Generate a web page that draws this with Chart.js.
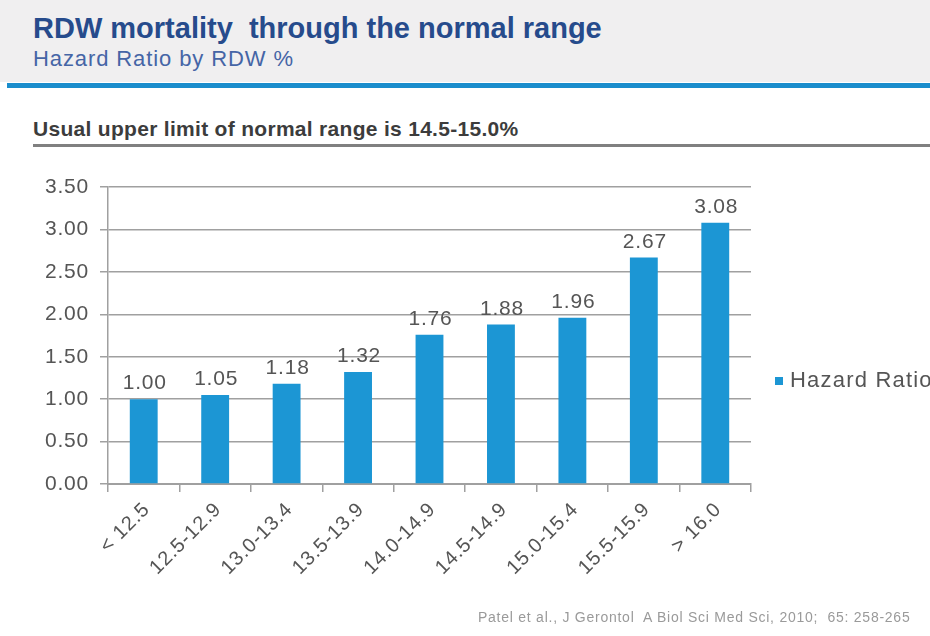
<!DOCTYPE html>
<html>
<head>
<meta charset="utf-8">
<script src="https://cdn.jsdelivr.net/npm/chart.js@4/dist/chart.umd.min.js"></script>
<style>
  html, body { margin: 0; padding: 0; background: #fff; }
  body { width: 930px; height: 636px; position: relative; overflow: hidden;
         font-family: "Liberation Sans", Arial, sans-serif; }
  .band { position: absolute; left: 0; top: 0; width: 930px; height: 82px; background: #f0eff0; }
  .rule-blue { position: absolute; left: 7px; right: 0; top: 83px; height: 5px; background: #1a8dcc; }
  .title { position: absolute; left: 33px; top: 12px; font-weight: bold; font-size: 29px;
           color: #264b8c; white-space: pre; }
  .subtitle { position: absolute; left: 33px; top: 46px; font-size: 22px; color: #4565a6;
              letter-spacing: 0.9px; }
  .note { position: absolute; left: 33px; top: 117px; font-weight: bold; font-size: 21px;
          color: #3c3c3c; letter-spacing: 0.3px; }
  .rule-grey { position: absolute; left: 33px; right: 0; top: 144px; height: 3px; background: #808080; }
  .source { position: absolute; left: 478px; top: 609px; font-size: 14px; color: #9a9a9a;
            letter-spacing: 0.75px; white-space: pre; }
  #wrap { position: absolute; left: 0; top: 150px; width: 930px; height: 460px; }
</style>
</head>
<body>
<div class="band"></div>
<div class="rule-blue"></div>
<div class="title">RDW mortality  through the normal range</div>
<div class="subtitle">Hazard Ratio by RDW %</div>
<div class="note">Usual upper limit of normal range is 14.5-15.0%</div>
<div class="rule-grey"></div>
<div id="wrap"><canvas id="chart" width="930" height="460"></canvas></div>
<div class="source">Patel et al., J Gerontol  A Biol Sci Med Sci, 2010;  65: 258-265</div>

<script>
// RDW ranges (%) and the hazard ratio for each range
const rdwRanges = ['< 12.5', '12.5-12.9', '13.0-13.4', '13.5-13.9', '14.0-14.9',
                   '14.5-14.9', '15.0-15.4', '15.5-15.9', '> 16.0'];
const hazardRatios = [1.00, 1.05, 1.18, 1.32, 1.76, 1.88, 1.96, 2.67, 3.08];
const seriesName = 'Hazard Ratio';
const yTicks = [0, 0.5, 1, 1.5, 2, 2.5, 3, 3.5];

const axisGrey = '#a0a0a0';
const textGrey = '#555555';
const barBlue = '#1c96d4';
const fontFamily = '"Liberation Sans", Arial, sans-serif';

// slightly open tracking for all chart text
const tracking = {
  id: 'tracking',
  beforeDraw(chart) { chart.ctx.letterSpacing = '0.8px'; }
};

// value printed above each bar
const barValues = {
  id: 'barValues',
  afterDatasetsDraw(chart) {
    const ctx = chart.ctx;
    ctx.save();
    ctx.font = '21px ' + fontFamily;
    ctx.fillStyle = textGrey;
    ctx.textAlign = 'center';
    ctx.textBaseline = 'bottom';
    chart.data.datasets.forEach((ds, di) => {
      chart.getDatasetMeta(di).data.forEach((bar, i) => {
        ctx.fillText(ds.data[i].toFixed(2), bar.x + 1, bar.y - 5);
      });
    });
    ctx.restore();
  }
};

// single-entry legend to the right of the plot
const sideLegend = {
  id: 'sideLegend',
  afterDraw(chart) {
    const ctx = chart.ctx;
    const area = chart.chartArea;
    const ds = chart.data.datasets[0];
    const x = area.right + 24;
    const y = area.bottom - 103;
    ctx.save();
    ctx.letterSpacing = '1.2px';
    ctx.fillStyle = ds.backgroundColor;
    ctx.fillRect(x, y - 4, 8, 8);
    ctx.font = '22px ' + fontFamily;
    ctx.fillStyle = textGrey;
    ctx.textBaseline = 'middle';
    ctx.textAlign = 'left';
    ctx.fillText(ds.label, x + 15, y);
    ctx.restore();
  }
};

new Chart(document.getElementById('chart'), {
  type: 'bar',
  data: {
    labels: rdwRanges,
    datasets: [{
      label: seriesName,
      data: hazardRatios,
      backgroundColor: barBlue,
      categoryPercentage: 1.0,
      barPercentage: 0.39
    }]
  },
  options: {
    responsive: false,
    animation: false,
    layout: { padding: { left: 0, top: 37, right: 179, bottom: 0 } },
    plugins: { legend: { display: false }, tooltip: { enabled: false } },
    scales: {
      x: {
        grid: { display: true, drawOnChartArea: false, offset: true, tickLength: 8,
                color: axisGrey, lineWidth: 1.5 },
        border: { display: true, color: axisGrey, width: 2 },
        ticks: { minRotation: 45, maxRotation: 45, color: textGrey, padding: 6, labelOffset: 3,
                 font: { family: fontFamily, size: 20 } },
        afterFit(scale) { scale.height = 126; }
      },
      y: {
        min: 0, max: 3.5,
        afterBuildTicks(scale) { scale.ticks = yTicks.map(v => ({ value: v })); },
        grid: { color: axisGrey, lineWidth: 1.5, tickLength: 8 },
        border: { display: true, color: axisGrey, width: 1.5 },
        ticks: { color: textGrey, padding: 11, font: { family: fontFamily, size: 21 },
                 callback: v => Number(v).toFixed(2) },
        afterFit(scale) { scale.width = 108; }
      }
    }
  },
  plugins: [tracking, barValues, sideLegend]
});
</script>
</body>
</html>
